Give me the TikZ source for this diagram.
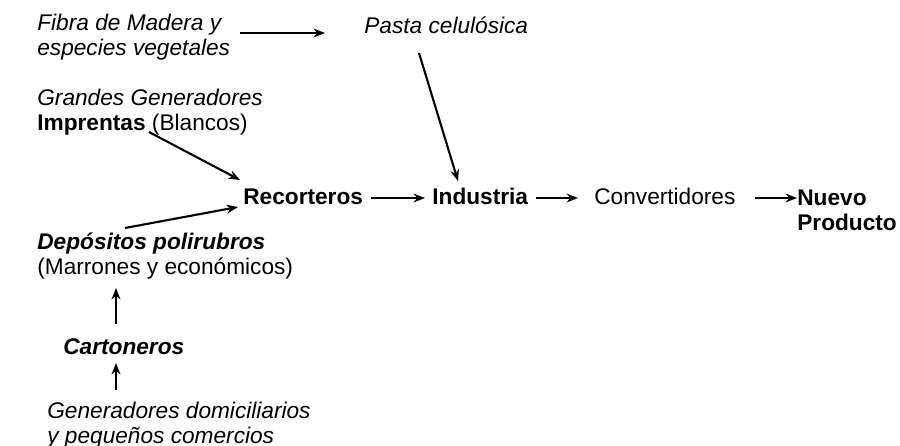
\documentclass[tikz,border=0pt]{standalone}
\usepackage{fontspec}
\setmainfont{Liberation Sans}
\usetikzlibrary{calc,arrows.meta}

\tikzset{
	txt/.style={anchor=west, inner sep=0pt, align=left, font=\fontsize{12.9}{14.2}\selectfont},
	fila/.style={txt, anchor=base west},
	flecha/.style={line width=1.2pt, -{Stealth[length=6.5pt,width=5pt]}}
}

\begin{document}
\begin{tikzpicture}[x=0.02cm,y=-0.02cm]

	\useasboundingbox (0,0) rectangle (900,446);

	\node[txt] (fibra) at (37,37) {\textit{Fibra de Madera y}\\\textit{especies vegetales}};
	\node[txt] (pasta) at (364,25) {\textit{Pasta celulósica}};
	\node[txt] (grandes) at (37,112) {\textit{Grandes Generadores}\\\textbf{Imprentas} (Blancos)};
	\node[fila] (recort) at (243,205) {\textbf{Recorteros}};
	\node[fila] (indus) at (432,205) {\textbf{Industria}};
	\node[fila] (conv) at (594,205) {Convertidores};
	\node[txt] (nuevo) at (797,210) {\textbf{Nuevo}\\\textbf{Producto}};
	\node[txt] (depos) at (37,256) {\textbf{\textit{Depósitos polirubros}}\\(Marrones y económicos)};
	\node[txt] (carton) at (63,347) {\textbf{\textit{Cartoneros}}};
	\node[txt] (gendom) at (47,425.5) {\textit{Generadores domiciliarios}\\\textit{y pequeños comercios}};

	\draw[flecha] ($(fibra.west)+(203,-4)$) -- ($(pasta.west)+(-39,8)$);
	\draw[flecha] ($(pasta.west)+(55,28)$) -- ($(indus.base west)+(26,-24)$);
	\draw[flecha] ($(grandes.west)+(112,20)$) -- ($(recort.base west)+(-3,-25)$);
	\draw[flecha] ($(depos.west)+(88,-28)$) -- ($(recort.base west)+(-5,2)$);
	\draw[flecha] ($(recort.base west)+(128,-7)$) -- ($(indus.base west)+(-7,-7)$);
	\draw[flecha] ($(indus.base west)+(104,-7)$) -- ($(conv.base west)+(-16,-7)$);
	\draw[flecha] ($(conv.base west)+(161,-7)$) -- ($(nuevo.west)+(0,-12)$);
	\draw[flecha] ($(carton.west)+(53,-23)$) -- ($(depos.west)+(79,32)$);
	\draw[flecha] ($(gendom.west)+(69,-35.5)$) -- ($(carton.west)+(53,16)$);

\end{tikzpicture}
\end{document}
